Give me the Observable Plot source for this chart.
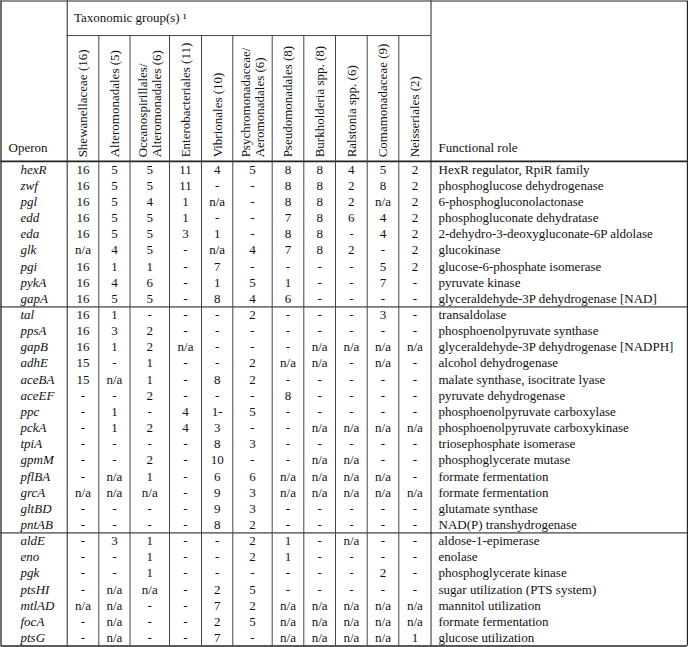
<!DOCTYPE html>
<html><head><meta charset="utf-8">
<script src="https://cdn.jsdelivr.net/npm/d3@7"></script>
<script src="https://cdn.jsdelivr.net/npm/@observablehq/plot@0.6"></script>
<style>body{margin:0;background:#fff}</style>
</head><body><div id="chart"></div>
<script>
// ---------- data ----------
const operons = ["hexR","zwf","pgl","edd","eda","glk","pgi","pykA","gapA",
  "tal","ppsA","gapB","adhE","aceBA","aceEF","ppc","pckA","tpiA","gpmM","pflBA","grcA","gltBD","pntAB",
  "aldE","eno","pgk","ptsHI","mtlAD","focA","ptsG"];

const groups = ["Shewanellaceae (16)", "Alteromonadales (5)", "Oceanospirillales/\nAlteromonadales (6)",
  "Enterobacteriales (11)", "Vibrionales (10)", "Psychromonadaceae/\nAeromonadales (6)",
  "Pseudomonadales (8)", "Burkholderia spp. (8)", "Ralstonia spp. (6)", "Comamonadaceae (9)", "Neisseriales (2)"];

const counts = [
  ["16","5","5","11","4","5","8","8","4","5","2"],
  ["16","5","5","11","-","-","8","8","2","8","2"],
  ["16","5","4","1","n/a","-","8","8","2","n/a","2"],
  ["16","5","5","1","-","-","7","8","6","4","2"],
  ["16","5","5","3","1","-","8","8","-","4","2"],
  ["n/a","4","5","-","n/a","4","7","8","2","-","2"],
  ["16","1","1","-","7","-","-","-","-","5","2"],
  ["16","4","6","-","1","5","1","-","-","7","-"],
  ["16","5","5","-","8","4","6","-","-","-","-"],
  ["16","1","-","-","-","2","-","-","-","3","-"],
  ["16","3","2","-","-","-","-","-","-","-","-"],
  ["16","1","2","n/a","-","-","-","n/a","n/a","n/a","n/a"],
  ["15","-","1","-","-","2","n/a","n/a","-","n/a","-"],
  ["15","n/a","1","-","8","2","-","-","-","-","-"],
  ["-","-","2","-","-","-","8","-","-","-","-"],
  ["-","1","-","4","1-","5","-","-","-","-","-"],
  ["-","1","2","4","3","-","-","n/a","n/a","n/a","n/a"],
  ["-","-","-","-","8","3","-","-","-","-","-"],
  ["-","-","2","-","10","-","-","n/a","n/a","-","-"],
  ["-","n/a","1","-","6","6","n/a","n/a","n/a","n/a","-"],
  ["n/a","n/a","n/a","-","9","3","n/a","n/a","n/a","n/a","n/a"],
  ["-","-","-","-","9","3","-","-","-","-","-"],
  ["-","-","-","-","8","2","-","-","-","-","-"],
  ["-","3","1","-","-","2","1","-","n/a","-","-"],
  ["-","-","1","-","-","2","1","-","-","-","-"],
  ["-","-","1","-","-","-","-","-","-","2","-"],
  ["-","n/a","n/a","-","2","5","-","-","-","-","-"],
  ["n/a","n/a","-","-","7","2","n/a","n/a","n/a","n/a","n/a"],
  ["-","n/a","-","-","2","5","n/a","n/a","n/a","n/a","n/a"],
  ["-","n/a","-","-","7","-","n/a","n/a","n/a","n/a","1"]
];

const roles = ["HexR regulator, RpiR family","phosphoglucose dehydrogenase","6-phosphogluconolactonase",
  "phosphogluconate dehydratase","2-dehydro-3-deoxygluconate-6P aldolase","glucokinase",
  "glucose-6-phosphate isomerase","pyruvate kinase","glyceraldehyde-3P dehydrogenase [NAD]",
  "transaldolase","phosphoenolpyruvate synthase","glyceraldehyde-3P dehydrogenase [NADPH]",
  "alcohol dehydrogenase","malate synthase, isocitrate lyase","pyruvate dehydrogenase",
  "phosphoenolpyruvate carboxylase","phosphoenolpyruvate carboxykinase","triosephosphate isomerase",
  "phosphoglycerate mutase","formate fermentation","formate fermentation","glutamate synthase",
  "NAD(P) transhydrogenase","aldose-1-epimerase","enolase","phosphoglycerate kinase",
  "sugar utilization (PTS system)","mannitol utilization","formate fermentation","glucose utilization"];

const groupTitle = "Taxonomic group(s) \u00b9";
const operonTitle = "Operon";
const roleTitle = "Functional role";
const blockEnds = ["gapA", "pntAB"];   // operon rows that close a block

// ---------- layout ----------
const colEdges = [0.5, 66.7, 98.3, 129.5, 169, 201, 232.3, 271.7, 303.3, 335, 366.7, 398.3, 430.5, 687];
const headTop = -9.93, taxLine = -7.79, headBottom = 0, nRows = operons.length;
const font = "Liberation Serif, Times New Roman, serif";
const fs = 13;
const center = j => (colEdges[j + 1] + colEdges[j + 2]) / 2;

const cells = operons.flatMap((op, i) => groups.map((g, j) => ({row: i, col: j, v: counts[i][j]})));
const breaks = blockEnds.map(o => operons.indexOf(o) + 1);

const hLines = [
  {y: headTop, x1: colEdges[0], x2: colEdges[13], s: "#222", w: 1.2},
  {y: taxLine, x1: colEdges[1], x2: colEdges[12], s: "#444", w: 1},
  {y: headBottom, x1: colEdges[0], x2: colEdges[13], s: "#222", w: 1.6},
  ...breaks.map(b => ({y: b, x1: colEdges[0], x2: colEdges[13], s: "#777", w: 1.8})),
  {y: nRows, x1: colEdges[0], x2: colEdges[13], s: "#222", w: 1.6}
];
const vLines = colEdges.map((x, k) => ({
  x, y1: (k <= 1 || k >= 12) ? headTop : taxLine, y2: nRows,
  s: (k <= 1 || k >= 12) ? "#222" : "#444", w: (k === 0 || k === 13) ? 1.3 : 1
}));

const chart = Plot.plot({
  width: 688, height: 647, margin: 0,
  style: {fontFamily: font, background: "#fff"},
  x: {domain: [0, 688], range: [0, 688], axis: null},
  y: {domain: [headTop, nRows], range: [0.5, 645.5], axis: null},
  marks: [
    Plot.ruleY(hLines, {y: "y", x1: "x1", x2: "x2", stroke: d => d.s, strokeWidth: d => d.w}),
    Plot.ruleX(vLines, {x: "x", y1: "y1", y2: "y2", stroke: d => d.s, strokeWidth: d => d.w}),
    Plot.text([groupTitle], {x: () => 73.5, y: () => -8.9, text: d => d, textAnchor: "start",
      fontSize: fs, fontFamily: font, fill: "#111"}),
    Plot.text([operonTitle], {x: () => 8, y: () => -0.85, text: d => d, textAnchor: "start",
      fontSize: fs, fontFamily: font, fill: "#111"}),
    Plot.text([roleTitle], {x: () => 438, y: () => -0.85, text: d => d, textAnchor: "start",
      fontSize: fs, fontFamily: font, fill: "#111"}),
    Plot.text(groups, {x: (d, j) => center(j), y: () => -0.25, text: d => d, rotate: -90,
      textAnchor: "start", lineAnchor: "middle", lineHeight: 1.05, fontSize: fs, fontFamily: font, fill: "#111"}),
    Plot.text(operons, {x: () => 20, y: (d, i) => i + 0.5, text: d => d, textAnchor: "start",
      fontStyle: "italic", fontSize: fs, fontFamily: font, fill: "#111"}),
    Plot.text(cells, {x: d => center(d.col), y: d => d.row + 0.5, text: "v",
      fontSize: fs, fontFamily: font, fill: "#111"}),
    Plot.text(roles, {x: () => 438, y: (d, i) => i + 0.5, text: d => d, textAnchor: "start",
      fontSize: fs, fontFamily: font, fill: "#111"})
  ]
});
document.getElementById("chart").append(chart);
</script>
</body></html>
